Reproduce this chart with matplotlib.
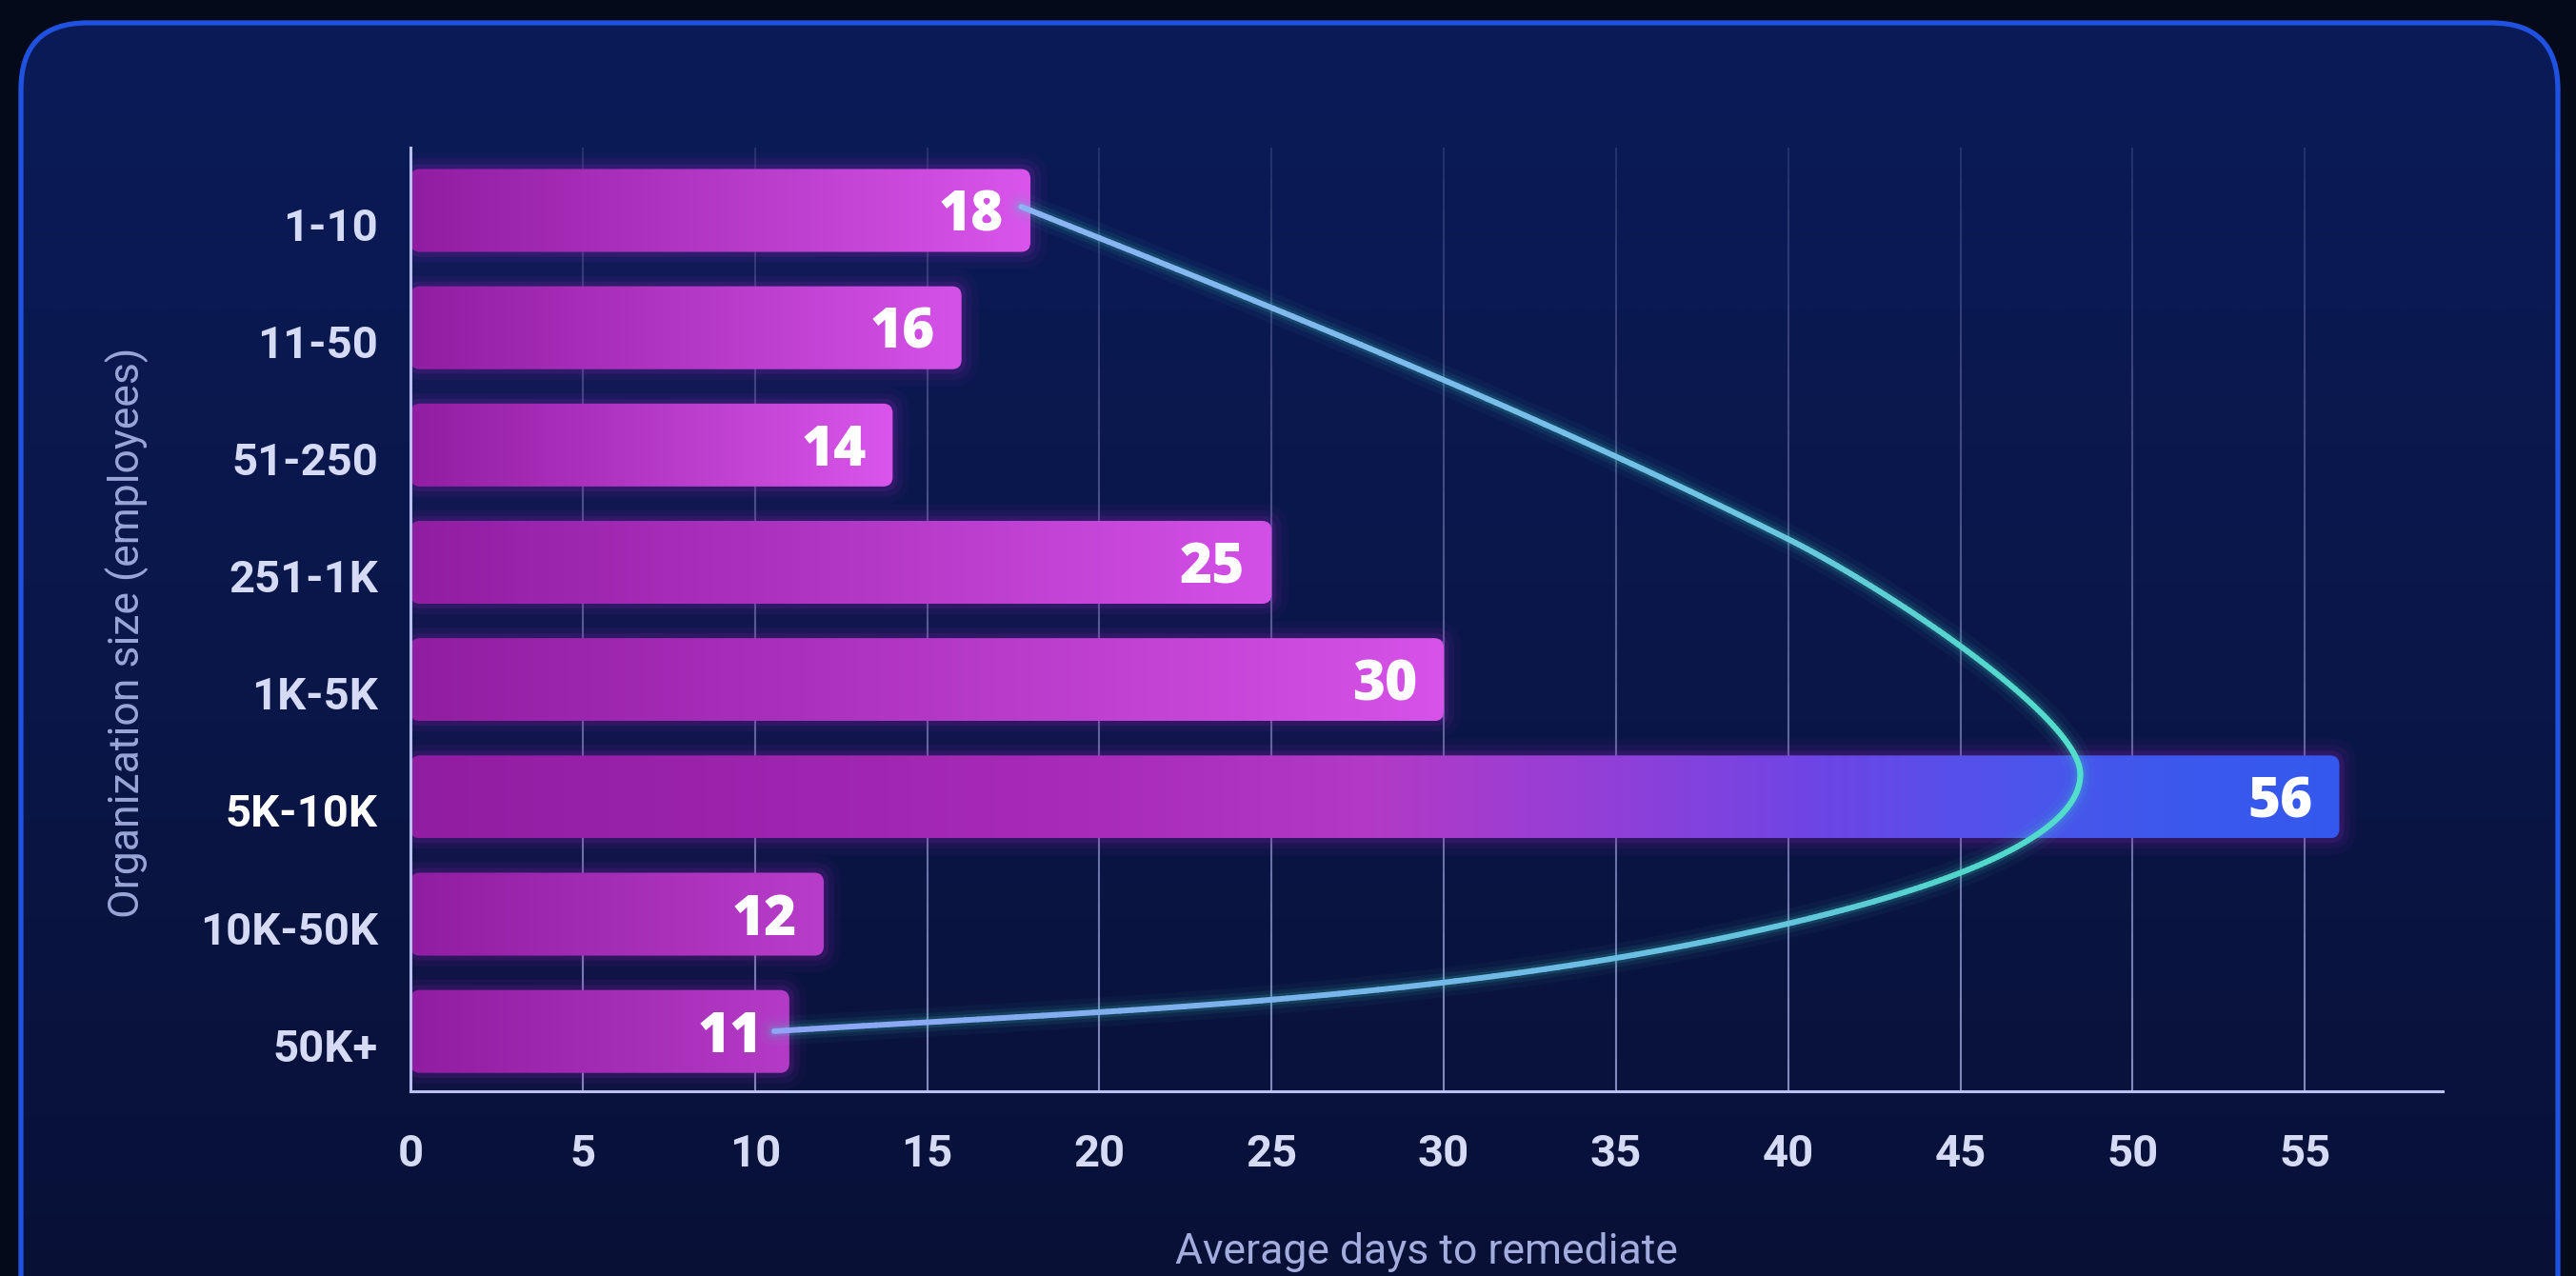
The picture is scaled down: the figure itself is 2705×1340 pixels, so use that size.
import numpy as np
import matplotlib
matplotlib.use("Agg")
import matplotlib.pyplot as plt
from matplotlib.colors import LinearSegmentedColormap, to_rgba
from matplotlib.patches import FancyBboxPatch
from matplotlib.collections import LineCollection
from matplotlib.bezier import BezierSegment
from matplotlib.transforms import ScaledTranslation

# organisation size buckets and average remediation time (days)
org_sizes = ["1-10", "11-50", "51-250", "251-1K", "1K-5K", "5K-10K", "10K-50K", "50K+"]
avg_days = [18, 16, 14, 25, 30, 56, 12, 11]
day_ticks = [0, 5, 10, 15, 20, 25, 30, 35, 40, 45, 50, 55]
highlight = "5K-10K"

# decorative arc from the first bar to the last one (days, row):
# a chain of cubic beziers, every 3rd point is an anchor
arc_ctrl = [
    (17.73, -0.032), (25.19, 0.844), (32.52, 1.705), (39.99, 2.801),
    (42.75, 3.207), (48.48, 4.319), (48.48, 4.806),
    (48.48, 5.375), (44.14, 5.795), (39.99, 6.081),
    (30.31, 6.747), (20.24, 6.820), (10.56, 6.998),
]

W, H = 2705, 1340
DPI = 100
fig = plt.figure(figsize=(W / DPI, H / DPI), dpi=DPI)
fig.patch.set_facecolor("#050a1a")

# ---- card background ----
bg = fig.add_axes([0, 0, 1, 1], zorder=-10)
bg.set_xlim(0, W)
bg.set_ylim(0, H)
bg.axis("off")
card_box = dict(boxstyle="round,pad=0,rounding_size=70")
card = FancyBboxPatch((22, -150), W - 22 - 19, H - 24 + 150, facecolor="none",
                      edgecolor="none", **card_box)
bg.add_patch(card)
card_cmap = LinearSegmentedColormap.from_list("card", ["#080f32", "#0a1647", "#0b1b58"])
grad = bg.imshow(np.linspace(0, 1, 256)[:, None], extent=(22, W - 19, -150, H - 24),
                 origin="lower", cmap=card_cmap, aspect="auto", interpolation="bilinear")
grad.set_clip_path(card)
bg.add_patch(FancyBboxPatch((22, -150), W - 22 - 19, H - 24 + 150, facecolor="none",
                            edgecolor="#1f52e0", linewidth=3.8, **card_box))

# ---- main axes ----
ax_l, ax_r, ax_t, ax_b = 431, 2565, 155, 1146
ax = fig.add_axes([ax_l / W, (H - ax_b) / H, (ax_r - ax_l) / W, (ax_b - ax_t) / H])
ax.patch.set_alpha(0)
ax.set_xlim(0, 59.0)
ax.set_ylim(7.51, -0.536)

# pixel size of one data unit, used for rounded corners and glows
px_x = (ax_r - ax_l) / 59.0
px_y = (ax_b - ax_t) / (7.51 + 0.536)
aspect = px_x / px_y

# vertical gridlines, fading towards the top
grid_col = to_rgba("#9ba4d9")
n_seg = 30
ys = np.linspace(-0.536, 7.51, n_seg + 1)
segs, cols = [], []
for d in day_ticks[1:]:
    for k in range(n_seg):
        segs.append([(d, ys[k]), (d, ys[k + 1])])
        a = 0.18 + 0.64 * (k / (n_seg - 1))
        cols.append((grid_col[0], grid_col[1], grid_col[2], a))
ax.add_collection(LineCollection(segs, colors=cols, linewidths=1.5, zorder=1))

# bars with horizontal gradients
bar_h = 0.707
r_px = 10
pink_ends = ["#d955eb", "#d552e8", "#d955eb", "#d350e6", "#d652e8", None, "#b83ec9", "#b43bc6"]
start_col = "#911da2"
hl_stops = [(0.0, "#911da2"), (0.35, "#a82bb9"), (0.5, "#b23ac6"), (0.63, "#8f40d9"),
            (0.74, "#6a46e6"), (0.84, "#4c55eb"), (0.92, "#3c58ed"), (1.0, "#3458ee")]

for i, (name, v) in enumerate(zip(org_sizes, avg_days)):
    y0 = i - bar_h / 2
    # soft magenta glow
    for grow, a in [(18, 0.045), (11, 0.075), (5, 0.13)]:
        ax.add_patch(FancyBboxPatch(
            (0, y0), v, bar_h,
            boxstyle=f"round,pad={grow / px_x},rounding_size={(r_px + grow) / px_x}",
            mutation_aspect=aspect, facecolor="#b02ad0", edgecolor="none",
            alpha=a, zorder=2))
    patch = FancyBboxPatch((0, y0), v, bar_h,
                           boxstyle=f"round,pad=0,rounding_size={r_px / px_x}",
                           mutation_aspect=aspect, facecolor="none", edgecolor="none",
                           zorder=3)
    ax.add_patch(patch)
    if name == highlight:
        cmap = LinearSegmentedColormap.from_list("hl", hl_stops)
    else:
        cmap = LinearSegmentedColormap.from_list(f"bar{i}", [start_col, pink_ends[i]])
    im = ax.imshow(np.linspace(0, 1, 256)[None, :], extent=(0, v, y0 + bar_h, y0),
                   cmap=cmap, aspect="auto", interpolation="bilinear", zorder=3)
    im.set_clip_path(patch)

    ax.annotate(str(v), xy=(v, i), xytext=(-20, -15.5), textcoords="offset points",
                ha="right", va="baseline", fontsize=42, fontweight="heavy",
                family=["Open Sans", "DejaVu Sans"], color="white", zorder=8)

# trend arc with glow and a colour gradient along its length
t = np.linspace(0, 1, 80)
pieces = []
for k in range(0, len(arc_ctrl) - 1, 3):
    seg = BezierSegment(np.array(arc_ctrl[k:k + 4]))(t)
    pieces.append(seg if k == 0 else seg[1:])
arc = np.vstack(pieces)
for lw, a in [(22, 0.045), (14, 0.08), (8.5, 0.14)]:
    ax.plot(arc[:, 0], arc[:, 1], color="#3fd8c8", lw=lw, alpha=a,
            solid_capstyle="round", zorder=6)
arc_cmap = LinearSegmentedColormap.from_list("arc", [
    (0.0, "#8cb3f3"), (0.2, "#72c1e6"), (0.38, "#55d6cd"), (0.5, "#52e0cb"),
    (0.65, "#52d6cc"), (0.8, "#6cbde4"), (1.0, "#8fa5f6")])
pts = arc.reshape(-1, 1, 2)
arc_segs = np.concatenate([pts[:-1], pts[1:]], axis=1)
s = np.linspace(0, 1, len(arc_segs))
ax.add_collection(LineCollection(arc_segs, colors=arc_cmap(s), linewidths=4.3,
                                 capstyle="round", zorder=7))

# axes styling
for side in ["top", "right"]:
    ax.spines[side].set_visible(False)
for side in ["left", "bottom"]:
    ax.spines[side].set_color("#b7c0ee")
    ax.spines[side].set_linewidth(2.2)
    ax.spines[side].set_zorder(4)

ax.set_xticks(day_ticks)
ax.set_yticks(range(len(org_sizes)))
ax.set_yticklabels(org_sizes)
ax.tick_params(axis="x", length=0, pad=32, labelsize=34, labelcolor="#d5dbf5")
ax.tick_params(axis="y", length=0, pad=24.5, labelsize=34, labelcolor="#d5dbf5")
shift = ScaledTranslation(0, -14 / DPI, fig.dpi_scale_trans)
for lab in ax.get_yticklabels():
    lab.set_fontfamily("Roboto")
    lab.set_fontweight("bold")
    lab.set_transform(lab.get_transform() + shift)
    if lab.get_text() == highlight:
        lab.set_color("white")
for lab in ax.get_xticklabels():
    lab.set_fontfamily("Roboto")
    lab.set_fontweight("bold")

ax.set_xlabel("Average days to remediate", fontsize=32, color="#a3addd",
              family="Roboto", va="baseline")
ax.xaxis.set_label_coords(0.5, -(1327 - ax_b) / (ax_b - ax_t))
ax.set_ylabel("Organization size (employees)", fontsize=32, color="#9aa5d8",
              family="Roboto", va="center")
ax.yaxis.set_label_coords((134 - ax_l) / (ax_r - ax_l), (ax_b - 664) / (ax_b - ax_t))

fig.savefig("out.png", dpi=DPI, facecolor=fig.get_facecolor())
